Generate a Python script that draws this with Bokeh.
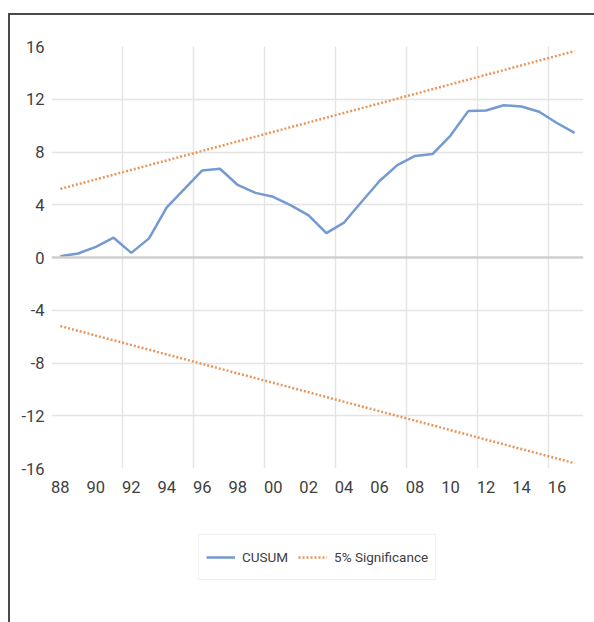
from bokeh.plotting import figure
from bokeh.layouts import column
from bokeh.models import FixedTicker, Span, Legend, LegendItem
from bokeh.embed import file_html
from bokeh.resources import INLINE

# ---- data ----
years = list(range(1988, 2018))
cusum = [0.1, 0.3, 0.8, 1.5, 0.35, 1.45, 3.8, 5.2, 6.6, 6.73,
         5.5, 4.9, 4.6, 3.95, 3.2, 1.85, 2.65, 4.25, 5.8, 7.0,
         7.7, 7.85, 9.25, 11.1, 11.15, 11.55, 11.45, 11.05, 10.2, 9.45]
bound_years = [1988, 2017]
upper = [5.2, 15.65]
lower = [-5.2, -15.6]
x_tick_years = list(range(1988, 2017, 2))
x_tick_labels = ["%02d" % (y % 100) for y in x_tick_years]
y_ticks = [-16, -12, -8, -4, 0, 4, 8, 12, 16]
y_tick_labels = ["-16", "-12", "-8", "-4", "0", "4", "8", "12", "16"]
vgrid_pos = [1991.5, 1995.5, 1999.5, 2003.5, 2007.5, 2011.5, 2015.5]

FONT = "Roboto"
TXT = "#404040"
BLUE = "#7499d3"
ORANGE = "#eb955a"

p = figure(width=586, height=493, output_backend="svg", toolbar_location=None,
           x_range=(1987.5, 2017.5), y_range=(-16, 16),
           min_border_left=41, min_border_right=13, min_border_top=31,
           min_border_bottom=40)
p.outline_line_color = None
p.background_fill_color = "white"
p.border_fill_color = "white"

# axes
p.xaxis.ticker = FixedTicker(ticks=x_tick_years)
p.xaxis.major_label_overrides = {y: l for y, l in zip(x_tick_years, x_tick_labels)}
p.yaxis.ticker = FixedTicker(ticks=y_ticks)
p.yaxis.major_label_overrides = {y: l for y, l in zip(y_ticks, y_tick_labels)}
for ax in (p.xaxis, p.yaxis):
    ax.axis_line_color = None
    ax.major_tick_line_color = None
    ax.minor_tick_line_color = None
    ax.major_label_text_font = FONT
    ax.major_label_text_font_size = "16.5px"
    ax.major_label_text_color = TXT
p.xaxis.major_label_standoff = 6
p.yaxis.major_label_standoff = 1

# grids
p.xgrid.ticker = FixedTicker(ticks=vgrid_pos)
p.ygrid.ticker = FixedTicker(ticks=[-12, -8, -4, 4, 8, 12])
for g in (p.xgrid, p.ygrid):
    g.grid_line_color = "#e4e4e4"
    g.grid_line_width = 1.5
p.add_layout(Span(location=0, dimension="width", line_color="#cfcfcf", line_width=2.5))

# series
r_c = p.line(years, cusum, line_color=BLUE, line_width=2.5)
r_u = p.line(bound_years, upper, line_color=ORANGE, line_width=2.5, line_dash="2 2")
r_l = p.line(bound_years, lower, line_color=ORANGE, line_width=2.5, line_dash="2 2")

# legend strip below the chart (its ranges keep these key lines out of view)
q = figure(width=586, height=114, output_backend="svg", toolbar_location=None,
           x_range=(0, 1), y_range=(0, 1), x_axis_location=None, y_axis_location=None,
           min_border_left=0, min_border_right=0, min_border_top=0, min_border_bottom=0)
q.outline_line_color = None
q.grid.visible = False
q.background_fill_color = "white"
q.border_fill_color = "white"
k_c = q.line(years, cusum, line_color=BLUE, line_width=2.5)
k_s = q.line(bound_years, upper, line_color=ORANGE, line_width=2.5, line_dash="2 2")

legend = Legend(items=[LegendItem(label="CUSUM", renderers=[k_c]),
                       LegendItem(label="5% Significance", renderers=[k_s])],
                orientation="horizontal", location=(147, 42))
legend.label_text_font = FONT
legend.label_text_font_size = "13.5px"
legend.label_text_color = TXT
legend.border_line_color = "#e3e3e3"
legend.border_line_width = 1
legend.background_fill_color = "white"
legend.background_fill_alpha = 1
legend.padding = 7
legend.margin = 0
legend.spacing = 10
legend.label_standoff = 7
legend.glyph_width = 29
legend.glyph_height = 30
legend.label_height = 30
q.add_layout(legend, "center")

lay = column(p, q, spacing=0)
lay.styles = {"border-top": "2px solid #4a4a4a", "border-left": "2px solid #4a4a4a",
              "margin-top": "13px", "margin-left": "8px"}

open("out.html", "w").write(file_html(lay, INLINE))
